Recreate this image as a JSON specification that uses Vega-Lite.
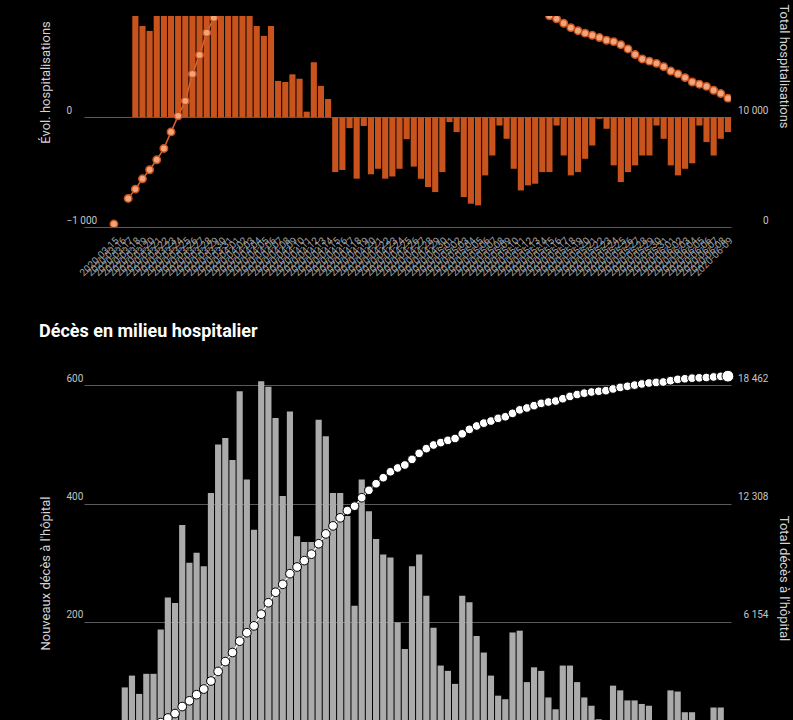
{
  "$schema": "https://vega.github.io/schema/vega-lite/v6.json",
  "background": "#000000",
  "padding": {"left": 38, "top": 3, "right": 6, "bottom": 0},
  "spacing": 45,
  "config": {
    "view": {"stroke": null},
    "font": "Roboto",
    "axis": {"domain": false, "ticks": false, "labelFont": "Roboto", "labelColor": "#c4c4c4", "labelFontSize": 10, "titleFont": "Roboto", "titleColor": "#d4d4d4", "titleFontSize": 13, "titleFontWeight": "normal", "gridColor": "#5a5a5a", "gridWidth": 1},
    "title": {"color": "#ffffff", "font": "Roboto", "fontSize": 18, "fontWeight": "bold", "anchor": "start", "frame": "bounds"}
  },
  "datasets": {
    "hosp": [
      {"d": "2020-03-15", "hosp": 270, "dh": null},
      {"d": "2020-03-16", "hosp": null, "dh": null},
      {"d": "2020-03-17", "hosp": 2600, "dh": null},
      {"d": "2020-03-18", "hosp": 3450, "dh": 1050},
      {"d": "2020-03-19", "hosp": 4390, "dh": 830},
      {"d": "2020-03-20", "hosp": 5210, "dh": 785},
      {"d": "2020-03-21", "hosp": 6120, "dh": 1100},
      {"d": "2020-03-22", "hosp": 7150, "dh": 1070},
      {"d": "2020-03-23", "hosp": 8660, "dh": 1430},
      {"d": "2020-03-24", "hosp": 10120, "dh": 1500},
      {"d": "2020-03-25", "hosp": 11480, "dh": 1360},
      {"d": "2020-03-26", "hosp": 13940, "dh": 2365},
      {"d": "2020-03-27", "hosp": 15660, "dh": 1800},
      {"d": "2020-03-28", "hosp": 17690, "dh": 1920},
      {"d": "2020-03-29", "hosp": 19050, "dh": 1730},
      {"d": "2020-03-30", "hosp": 20950, "dh": 1590},
      {"d": "2020-03-31", "hosp": 22760, "dh": 1810},
      {"d": "2020-04-01", "hosp": 24640, "dh": 1880},
      {"d": "2020-04-02", "hosp": 26250, "dh": 1610},
      {"d": "2020-04-03", "hosp": 27430, "dh": 1190},
      {"d": "2020-04-04", "hosp": 28140, "dh": 830},
      {"d": "2020-04-05", "hosp": 28890, "dh": 740},
      {"d": "2020-04-06", "hosp": 29720, "dh": 830},
      {"d": "2020-04-07", "hosp": 30370, "dh": 330},
      {"d": "2020-04-08", "hosp": 30770, "dh": 320},
      {"d": "2020-04-09", "hosp": 31000, "dh": 390},
      {"d": "2020-04-10", "hosp": 31300, "dh": 350},
      {"d": "2020-04-11", "hosp": 31320, "dh": 50},
      {"d": "2020-04-12", "hosp": 31830, "dh": 500},
      {"d": "2020-04-13", "hosp": 32130, "dh": 285},
      {"d": "2020-04-14", "hosp": 32290, "dh": 165},
      {"d": "2020-04-15", "hosp": 31780, "dh": -500},
      {"d": "2020-04-16", "hosp": 31300, "dh": -480},
      {"d": "2020-04-17", "hosp": 31180, "dh": -100},
      {"d": "2020-04-18", "hosp": 30640, "dh": -560},
      {"d": "2020-04-19", "hosp": 30560, "dh": -80},
      {"d": "2020-04-20", "hosp": 30100, "dh": -520},
      {"d": "2020-04-21", "hosp": 29700, "dh": -470},
      {"d": "2020-04-22", "hosp": 29200, "dh": -560},
      {"d": "2020-04-23", "hosp": 28750, "dh": -540},
      {"d": "2020-04-24", "hosp": 28330, "dh": -470},
      {"d": "2020-04-25", "hosp": 28150, "dh": -200},
      {"d": "2020-04-26", "hosp": 27750, "dh": -450},
      {"d": "2020-04-27", "hosp": 27250, "dh": -561},
      {"d": "2020-04-28", "hosp": 26700, "dh": -636},
      {"d": "2020-04-29", "hosp": 26100, "dh": -682},
      {"d": "2020-04-30", "hosp": 25650, "dh": -500},
      {"d": "2020-05-01", "hosp": 25600, "dh": -45},
      {"d": "2020-05-02", "hosp": 25480, "dh": -136},
      {"d": "2020-05-03", "hosp": 24850, "dh": -727},
      {"d": "2020-05-04", "hosp": 24150, "dh": -788},
      {"d": "2020-05-05", "hosp": 23450, "dh": -803},
      {"d": "2020-05-06", "hosp": 22980, "dh": -530},
      {"d": "2020-05-07", "hosp": 22670, "dh": -349},
      {"d": "2020-05-08", "hosp": 22600, "dh": -76},
      {"d": "2020-05-09", "hosp": 22420, "dh": -197},
      {"d": "2020-05-10", "hosp": 22000, "dh": -470},
      {"d": "2020-05-11", "hosp": 21400, "dh": -667},
      {"d": "2020-05-12", "hosp": 20850, "dh": -621},
      {"d": "2020-05-13", "hosp": 20300, "dh": -606},
      {"d": "2020-05-14", "hosp": 19850, "dh": -500},
      {"d": "2020-05-15", "hosp": 19230, "dh": -500},
      {"d": "2020-05-16", "hosp": 18950, "dh": -76},
      {"d": "2020-05-17", "hosp": 18550, "dh": -349},
      {"d": "2020-05-18", "hosp": 18150, "dh": -530},
      {"d": "2020-05-19", "hosp": 17870, "dh": -500},
      {"d": "2020-05-20", "hosp": 17650, "dh": -379},
      {"d": "2020-05-21", "hosp": 17450, "dh": -258},
      {"d": "2020-05-22", "hosp": 17250, "dh": -15},
      {"d": "2020-05-23", "hosp": 17000, "dh": -106},
      {"d": "2020-05-24", "hosp": 16880, "dh": -439},
      {"d": "2020-05-25", "hosp": 16600, "dh": -591},
      {"d": "2020-05-26", "hosp": 16210, "dh": -500},
      {"d": "2020-05-27", "hosp": 15700, "dh": -439},
      {"d": "2020-05-28", "hosp": 15300, "dh": -349},
      {"d": "2020-05-29", "hosp": 15100, "dh": -349},
      {"d": "2020-05-30", "hosp": 14900, "dh": -76},
      {"d": "2020-05-31", "hosp": 14600, "dh": -197},
      {"d": "2020-06-01", "hosp": 14200, "dh": -439},
      {"d": "2020-06-02", "hosp": 13940, "dh": -530},
      {"d": "2020-06-03", "hosp": 13600, "dh": -470},
      {"d": "2020-06-04", "hosp": 13200, "dh": -420},
      {"d": "2020-06-05", "hosp": 13000, "dh": -76},
      {"d": "2020-06-06", "hosp": 12800, "dh": -227},
      {"d": "2020-06-07", "hosp": 12450, "dh": -349},
      {"d": "2020-06-08", "hosp": 12150, "dh": -197},
      {"d": "2020-06-09", "hosp": 11730, "dh": -136}
    ],
    "deces": [
      {"d": "2020-03-18", "dc": 89, "tc": 307},
      {"d": "2020-03-19", "dc": 109, "tc": 416},
      {"d": "2020-03-20", "dc": 78, "tc": 494},
      {"d": "2020-03-21", "dc": 112, "tc": 606},
      {"d": "2020-03-22", "dc": 112, "tc": 718},
      {"d": "2020-03-23", "dc": 187, "tc": 905},
      {"d": "2020-03-24", "dc": 241, "tc": 1146},
      {"d": "2020-03-25", "dc": 232, "tc": 1378},
      {"d": "2020-03-26", "dc": 364, "tc": 1742},
      {"d": "2020-03-27", "dc": 300, "tc": 2042},
      {"d": "2020-03-28", "dc": 317, "tc": 2359},
      {"d": "2020-03-29", "dc": 294, "tc": 2653},
      {"d": "2020-03-30", "dc": 418, "tc": 3071},
      {"d": "2020-03-31", "dc": 500, "tc": 3571},
      {"d": "2020-04-01", "dc": 511, "tc": 4082},
      {"d": "2020-04-02", "dc": 474, "tc": 4556},
      {"d": "2020-04-03", "dc": 590, "tc": 5146},
      {"d": "2020-04-04", "dc": 441, "tc": 5587},
      {"d": "2020-04-05", "dc": 356, "tc": 5943},
      {"d": "2020-04-06", "dc": 607, "tc": 6550},
      {"d": "2020-04-07", "dc": 598, "tc": 7148},
      {"d": "2020-04-08", "dc": 545, "tc": 7693},
      {"d": "2020-04-09", "dc": 413, "tc": 8106},
      {"d": "2020-04-10", "dc": 556, "tc": 8662},
      {"d": "2020-04-11", "dc": 345, "tc": 9007},
      {"d": "2020-04-12", "dc": 335, "tc": 9342},
      {"d": "2020-04-13", "dc": 335, "tc": 9677},
      {"d": "2020-04-14", "dc": 542, "tc": 10219},
      {"d": "2020-04-15", "dc": 514, "tc": 10733},
      {"d": "2020-04-16", "dc": 418, "tc": 11151},
      {"d": "2020-04-17", "dc": 418, "tc": 11569},
      {"d": "2020-04-18", "dc": 379, "tc": 11948},
      {"d": "2020-04-19", "dc": 227, "tc": 12175},
      {"d": "2020-04-20", "dc": 441, "tc": 12616},
      {"d": "2020-04-21", "dc": 387, "tc": 13003},
      {"d": "2020-04-22", "dc": 340, "tc": 13343},
      {"d": "2020-04-23", "dc": 314, "tc": 13657},
      {"d": "2020-04-24", "dc": 309, "tc": 13966},
      {"d": "2020-04-25", "dc": 199, "tc": 14165},
      {"d": "2020-04-26", "dc": 154, "tc": 14319},
      {"d": "2020-04-27", "dc": 294, "tc": 14613},
      {"d": "2020-04-28", "dc": 314, "tc": 14927},
      {"d": "2020-04-29", "dc": 244, "tc": 15171},
      {"d": "2020-04-30", "dc": 190, "tc": 15361},
      {"d": "2020-05-01", "dc": 126, "tc": 15487},
      {"d": "2020-05-02", "dc": 117, "tc": 15604},
      {"d": "2020-05-03", "dc": 95, "tc": 15699},
      {"d": "2020-05-04", "dc": 244, "tc": 15943},
      {"d": "2020-05-05", "dc": 233, "tc": 16176},
      {"d": "2020-05-06", "dc": 176, "tc": 16352},
      {"d": "2020-05-07", "dc": 148, "tc": 16500},
      {"d": "2020-05-08", "dc": 109, "tc": 16609},
      {"d": "2020-05-09", "dc": 75, "tc": 16750},
      {"d": "2020-05-10", "dc": 69, "tc": 16830},
      {"d": "2020-05-11", "dc": 182, "tc": 17010},
      {"d": "2020-05-12", "dc": 185, "tc": 17190},
      {"d": "2020-05-13", "dc": 98, "tc": 17290},
      {"d": "2020-05-14", "dc": 123, "tc": 17410},
      {"d": "2020-05-15", "dc": 117, "tc": 17530},
      {"d": "2020-05-16", "dc": 72, "tc": 17600},
      {"d": "2020-05-17", "dc": 52, "tc": 17650},
      {"d": "2020-05-18", "dc": 126, "tc": 17770},
      {"d": "2020-05-19", "dc": 126, "tc": 17890},
      {"d": "2020-05-20", "dc": 98, "tc": 17990},
      {"d": "2020-05-21", "dc": 72, "tc": 18060},
      {"d": "2020-05-22", "dc": 58, "tc": 18120},
      {"d": "2020-05-23", "dc": 35, "tc": 18160},
      {"d": "2020-05-24", "dc": 25, "tc": 18190},
      {"d": "2020-05-25", "dc": 92, "tc": 18280},
      {"d": "2020-05-26", "dc": 84, "tc": 18360},
      {"d": "2020-05-27", "dc": 67, "tc": 18420},
      {"d": "2020-05-28", "dc": 67, "tc": 18480},
      {"d": "2020-05-29", "dc": 61, "tc": 18540},
      {"d": "2020-05-30", "dc": 58, "tc": 18590},
      {"d": "2020-05-31", "dc": 30, "tc": 18620},
      {"d": "2020-06-01", "dc": 20, "tc": 18640},
      {"d": "2020-06-02", "dc": 84, "tc": 18710},
      {"d": "2020-06-03", "dc": 82, "tc": 18780},
      {"d": "2020-06-04", "dc": 47, "tc": 18810},
      {"d": "2020-06-05", "dc": 47, "tc": 18840},
      {"d": "2020-06-06", "dc": 25, "tc": 18860},
      {"d": "2020-06-07", "dc": 20, "tc": 18875},
      {"d": "2020-06-08", "dc": 55, "tc": 18905},
      {"d": "2020-06-09", "dc": 55, "tc": 18935},
      {"d": "2020-06-10", "dc": 15, "tc": 18945}
    ]
  },
  "vconcat": [
    {
      "width": 647,
      "height": 211,
      "data": {"name": "hosp"},
      "encoding": {
        "x": {
          "field": "d",
          "type": "ordinal",
          "scale": {
            "type": "band",
            "domain": ["2020-03-12","2020-03-13","2020-03-14","2020-03-15","2020-03-16","2020-03-17","2020-03-18","2020-03-19","2020-03-20","2020-03-21","2020-03-22","2020-03-23","2020-03-24","2020-03-25","2020-03-26","2020-03-27","2020-03-28","2020-03-29","2020-03-30","2020-03-31","2020-04-01","2020-04-02","2020-04-03","2020-04-04","2020-04-05","2020-04-06","2020-04-07","2020-04-08","2020-04-09","2020-04-10","2020-04-11","2020-04-12","2020-04-13","2020-04-14","2020-04-15","2020-04-16","2020-04-17","2020-04-18","2020-04-19","2020-04-20","2020-04-21","2020-04-22","2020-04-23","2020-04-24","2020-04-25","2020-04-26","2020-04-27","2020-04-28","2020-04-29","2020-04-30","2020-05-01","2020-05-02","2020-05-03","2020-05-04","2020-05-05","2020-05-06","2020-05-07","2020-05-08","2020-05-09","2020-05-10","2020-05-11","2020-05-12","2020-05-13","2020-05-14","2020-05-15","2020-05-16","2020-05-17","2020-05-18","2020-05-19","2020-05-20","2020-05-21","2020-05-22","2020-05-23","2020-05-24","2020-05-25","2020-05-26","2020-05-27","2020-05-28","2020-05-29","2020-05-30","2020-05-31","2020-06-01","2020-06-02","2020-06-03","2020-06-04","2020-06-05","2020-06-06","2020-06-07","2020-06-08","2020-06-09"],
            "paddingInner": 0.14,
            "paddingOuter": 0.38,
            "align": 1
          },
          "axis": {"title": null, "labelAngle": -45, "labelColor": "#a0a0a0", "labelFontSize": 10, "labelPadding": 8, "grid": false, "labelExpr": "datum.value < '2020-03-15' ? '' : datum.value"}
        }
      },
      "layer": [
        {
          "mark": {"type": "bar", "color": "#c8531d", "clip": true},
          "encoding": {
            "y": {
              "field": "dh",
              "type": "quantitative",
              "scale": {"domain": [-1000, 921], "nice": false, "zero": false},
              "axis": {
                "orient": "left",
                "title": "Évol. hospitalisations",
                "values": [-1000, 0],
                "grid": true,
                "labelAlign": "left",
                "labelPadding": 18,
                "labelBaseline": "bottom",
                "labelOffset": -2,
                "labelExpr": "replace(format(datum.value, ','), ',', ' ')",
                "titleAngle": -90,
                "titleX": -39,
                "titleY": 66,
                "titleAlign": "center",
                "titleBaseline": "middle"
              }
            }
          }
        },
        {
          "encoding": {
            "y": {
              "field": "hosp",
              "type": "quantitative",
              "scale": {"domain": [0, 19210], "nice": false},
              "axis": {
                "orient": "right",
                "title": "Total hospitalisations",
                "values": [0, 10000],
                "grid": false,
                "labelAlign": "right",
                "labelPadding": 37,
                "labelBaseline": "bottom",
                "labelOffset": -2,
                "labelExpr": "replace(format(datum.value, ','), ',', ' ')",
                "titleAngle": 90,
                "titleX": 52,
                "titleY": 50,
                "titleAlign": "center",
                "titleBaseline": "middle"
              }
            }
          },
          "layer": [
            {"mark": {"type": "line", "color": "#d8622c", "strokeWidth": 1.5, "clip": true}},
            {"mark": {"type": "point", "filled": true, "fill": "#f2a47c", "stroke": "#c8531d", "strokeWidth": 1.5, "size": 55, "opacity": 1, "clip": true}}
          ]
        }
      ],
      "resolve": {"scale": {"y": "independent"}}
    },
    {
      "width": 647,
      "height": 364,
      "title": {"text": "Décès en milieu hospitalier", "offset": 9, "baseline": "bottom"},
      "data": {"name": "deces"},
      "encoding": {
        "x": {
          "field": "d",
          "type": "ordinal",
          "scale": {
            "type": "band",
            "domain": ["2020-03-13","2020-03-14","2020-03-15","2020-03-16","2020-03-17","2020-03-18","2020-03-19","2020-03-20","2020-03-21","2020-03-22","2020-03-23","2020-03-24","2020-03-25","2020-03-26","2020-03-27","2020-03-28","2020-03-29","2020-03-30","2020-03-31","2020-04-01","2020-04-02","2020-04-03","2020-04-04","2020-04-05","2020-04-06","2020-04-07","2020-04-08","2020-04-09","2020-04-10","2020-04-11","2020-04-12","2020-04-13","2020-04-14","2020-04-15","2020-04-16","2020-04-17","2020-04-18","2020-04-19","2020-04-20","2020-04-21","2020-04-22","2020-04-23","2020-04-24","2020-04-25","2020-04-26","2020-04-27","2020-04-28","2020-04-29","2020-04-30","2020-05-01","2020-05-02","2020-05-03","2020-05-04","2020-05-05","2020-05-06","2020-05-07","2020-05-08","2020-05-09","2020-05-10","2020-05-11","2020-05-12","2020-05-13","2020-05-14","2020-05-15","2020-05-16","2020-05-17","2020-05-18","2020-05-19","2020-05-20","2020-05-21","2020-05-22","2020-05-23","2020-05-24","2020-05-25","2020-05-26","2020-05-27","2020-05-28","2020-05-29","2020-05-30","2020-05-31","2020-06-01","2020-06-02","2020-06-03","2020-06-04","2020-06-05","2020-06-06","2020-06-07","2020-06-08","2020-06-09","2020-06-10"],
            "paddingInner": 0.14,
            "paddingOuter": 0.125,
            "align": 1
          },
          "axis": null
        }
      },
      "layer": [
        {
          "mark": {"type": "bar", "color": "#ababab"},
          "encoding": {
            "y": {
              "field": "dc",
              "type": "quantitative",
              "scale": {"domain": [0, 616], "nice": false},
              "axis": {
                "orient": "left",
                "title": "Nouveaux décès à l'hôpital",
                "values": [200, 400, 600],
                "grid": true,
                "labelAlign": "left",
                "labelPadding": 18,
                "labelBaseline": "bottom",
                "labelOffset": -2,
                "titleAngle": -90,
                "titleX": -39,
                "titleY": 197,
                "titleAlign": "center",
                "titleBaseline": "middle"
              }
            }
          }
        },
        {
          "encoding": {
            "y": {
              "field": "tc",
              "type": "quantitative",
              "scale": {"domain": [0, 18954], "nice": false},
              "axis": {
                "orient": "right",
                "title": "Total décès à l'hôpital",
                "values": [6154, 12308, 18462],
                "grid": false,
                "labelAlign": "right",
                "labelPadding": 37,
                "labelBaseline": "bottom",
                "labelOffset": -2,
                "labelExpr": "replace(format(datum.value, ','), ',', ' ')",
                "titleAngle": 90,
                "titleX": 52,
                "titleY": 202,
                "titleAlign": "center",
                "titleBaseline": "middle"
              }
            }
          },
          "layer": [
            {"mark": {"type": "line", "color": "#ffffff", "strokeWidth": 1.5}},
            {"mark": {"type": "point", "filled": true, "fill": "#ffffff", "stroke": "#000000", "strokeWidth": 1, "size": 75, "opacity": 1}},
            {
              "transform": [{"filter": "datum.d === '2020-06-10'"}],
              "mark": {"type": "point", "filled": true, "fill": "#ffffff", "stroke": "#000000", "strokeWidth": 1, "size": 140, "opacity": 1}
            }
          ]
        }
      ],
      "resolve": {"scale": {"y": "independent"}}
    }
  ]
}
